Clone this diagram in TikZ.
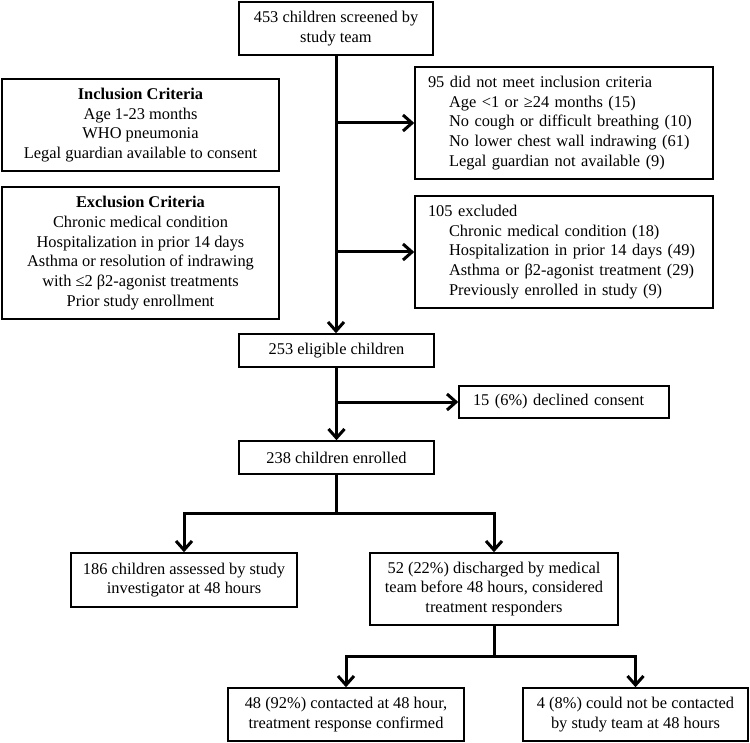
\documentclass[tikz,border=0pt]{standalone}
\usepackage{fontspec}
\setmainfont{Liberation Serif}
\usetikzlibrary{positioning}
\usetikzlibrary{arrows.meta}
\tikzset{box/.style={draw,line width=1.5pt,rectangle,inner sep=0pt,align=center,
                     font=\fontsize{16.4}{19.8}\selectfont},
         listbox/.style={box,align=left,minimum width=298pt,minimum height=112pt,text width=272pt},
         flow/.style={line width=3pt,-{Straight Barb[length=9pt,width=16pt]}},
         trunk/.style={line width=3pt},
         }
\newcommand{\ind}{\hspace*{21pt}}

\begin{document}
\begin{tikzpicture}[x=1pt,y=-1pt]
\useasboundingbox (0,0) rectangle (750,743);

\node[box,minimum width=194pt,minimum height=53pt] (screened) at (336,28.5)
  {453 children screened by\\study team};
\node[box,minimum width=277pt,minimum height=92pt] (incl) at (140.5,125)
  {\textbf{Inclusion Criteria}\\Age 1-23 months\\WHO pneumonia\\Legal guardian available to consent};
\node[box,minimum width=277pt,minimum height=132pt] (excl) at (140.5,253)
  {\textbf{Exclusion Criteria}\\Chronic medical condition\\Hospitalization in prior 14 days\\
   Asthma or resolution of indrawing\\with ≤2 β2-agonist treatments\\Prior study enrollment};
\node[listbox] (notmet) at (564,123)
  {95 did not meet inclusion criteria\\\ind Age <1 or ≥24 months (15)\\\ind No cough or difficult breathing (10)\\
   \ind No lower chest wall indrawing (61)\\\ind Legal guardian not available (9)};
\node[listbox] (excluded) at (564,252)
  {105 excluded\\\ind Chronic medical condition (18)\\\ind Hospitalization in prior 14 days (49)\\
   \ind Asthma or β2-agonist treatment (29)\\\ind Previously enrolled in study (9)};
\node[box,minimum width=195pt,minimum height=33pt] (eligible) at (336.5,350.5) {253 eligible children};
\node[box,align=left,minimum width=210pt,minimum height=32pt,text width=182pt] (declined) at (564,402)
  {15 (6\%) declined consent};
\node[box,minimum width=195pt,minimum height=33pt] (enrolled) at (336.5,457.5) {238 children enrolled};
\node[box,minimum width=226pt,minimum height=54pt] (assessed) at (184,580)
  {186 children assessed by study\\investigator at 48 hours};
\node[box,minimum width=248pt,minimum height=72pt] (discharged) at (494,589)
  {52 (22\%) discharged by medical\\team before 48 hours, considered\\treatment responders};
\node[box,minimum width=236pt,minimum height=53pt] (confirmed) at (346,714.5)
  {48 (92\%) contacted at 48 hour,\\treatment response confirmed};
\node[box,minimum width=225pt,minimum height=53pt] (lost) at (635.5,714.5)
  {4 (8\%) could not be contacted\\by study team at 48 hours};

\coordinate (split1) at (enrolled.south |- 0,513);
\coordinate (split2) at (discharged.south |- 0,656);

\draw[flow] (screened.south) -- (screened.south |- eligible.north);
\draw[flow] (screened.south |- notmet.west) -- (notmet.west);
\draw[flow] (screened.south |- excluded.west) -- (excluded.west);
\draw[flow] (eligible.south) -- (enrolled.north);
\draw[flow] (eligible.south |- declined.west) -- (declined.west);
\draw[trunk] (enrolled.south) -- (split1);
\draw[flow] (split1) -| (assessed.north);
\draw[flow] (split1) -| (discharged.north);
\draw[trunk] (discharged.south) -- (split2);
\draw[flow] (split2) -| (confirmed.north);
\draw[flow] (split2) -| (lost.north);
\end{tikzpicture}
\end{document}
